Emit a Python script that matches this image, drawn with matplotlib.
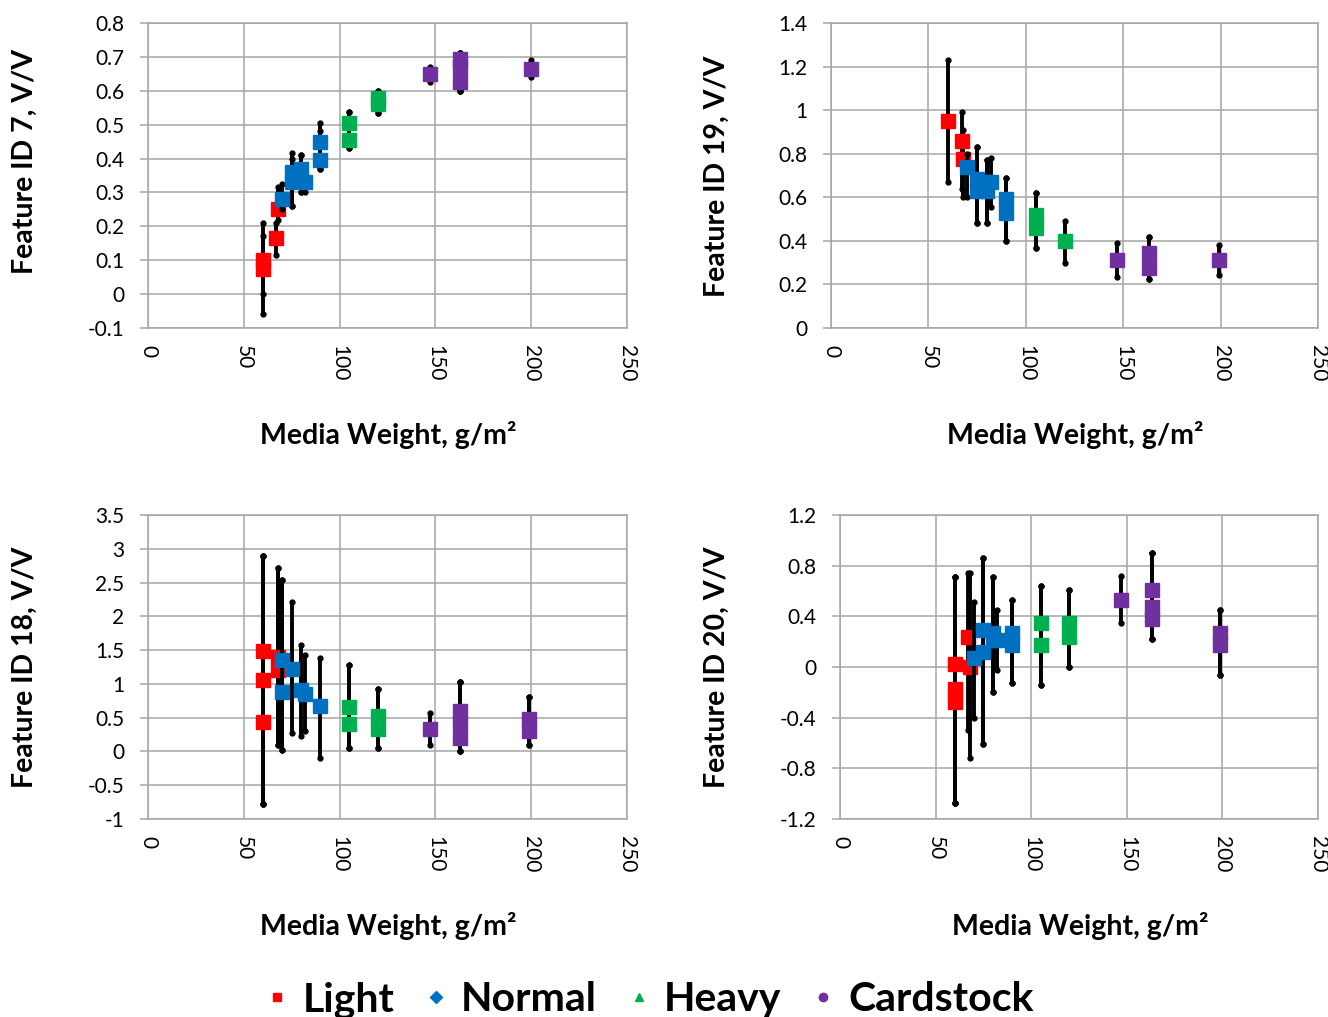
import matplotlib
matplotlib.use("Agg")
import matplotlib.pyplot as plt
import numpy as np
from matplotlib.lines import Line2D
from matplotlib.ticker import FuncFormatter

plt.rcParams['font.family'] = ['Lato', 'DejaVu Sans']

# series names / colours
groups = ['Light', 'Normal', 'Heavy', 'Cardstock']
colors = {'Light': '#FF0000', 'Normal': '#0070C0', 'Heavy': '#00B050', 'Cardstock': '#7030A0'}
legend_markers = {'Light': 's', 'Normal': 'D', 'Heavy': '^', 'Cardstock': 'o'}

# ---- Feature ID 7 ----
id7_light_x = [60, 60, 67, 68]
id7_light_y = [0.075, 0.10, 0.165, 0.25]
id7_light_lo = [-0.06, 0.0, 0.115, 0.22]
id7_light_hi = [0.21, 0.17, 0.21, 0.315]
id7_normal_x = [70, 75, 75, 80, 80, 82, 90, 90]
id7_normal_y = [0.28, 0.36, 0.33, 0.37, 0.34, 0.33, 0.45, 0.395]
id7_normal_lo = [0.25, 0.26, 0.26, 0.30, 0.30, 0.30, 0.37, 0.37]
id7_normal_hi = [0.325, 0.415, 0.40, 0.41, 0.41, 0.36, 0.505, 0.48]
id7_heavy_x = [105, 105, 120, 120]
id7_heavy_y = [0.505, 0.455, 0.58, 0.56]
id7_heavy_lo = [0.43, 0.43, 0.535, 0.535]
id7_heavy_hi = [0.537, 0.537, 0.60, 0.60]
id7_card_x = [147, 163, 163, 163, 200]
id7_card_y = [0.65, 0.695, 0.67, 0.625, 0.665]
id7_card_lo = [0.625, 0.60, 0.60, 0.60, 0.64]
id7_card_hi = [0.67, 0.71, 0.71, 0.71, 0.69]

# ---- Feature ID 19 ----
id19_light_x = [60, 67, 68]
id19_light_y = [0.95, 0.86, 0.775]
id19_light_lo = [0.67, 0.64, 0.60]
id19_light_hi = [1.23, 0.99, 0.91]
id19_normal_x = [70, 75, 75, 80, 80, 82, 90, 90]
id19_normal_y = [0.74, 0.685, 0.63, 0.67, 0.63, 0.67, 0.59, 0.53]
id19_normal_lo = [0.60, 0.48, 0.48, 0.48, 0.48, 0.555, 0.40, 0.40]
id19_normal_hi = [0.80, 0.83, 0.83, 0.77, 0.77, 0.78, 0.69, 0.69]
id19_heavy_x = [105, 105, 120]
id19_heavy_y = [0.52, 0.46, 0.40]
id19_heavy_lo = [0.367, 0.367, 0.30]
id19_heavy_hi = [0.62, 0.62, 0.49]
id19_card_x = [147, 163, 163, 199]
id19_card_y = [0.31, 0.345, 0.275, 0.31]
id19_card_lo = [0.234, 0.225, 0.225, 0.243]
id19_card_hi = [0.39, 0.417, 0.417, 0.38]

# ---- Feature ID 18 ----
id18_light_x = [60, 60, 60, 68, 68]
id18_light_y = [1.48, 1.06, 0.43, 1.40, 1.20]
id18_light_lo = [-0.78, -0.78, -0.78, 0.1, 0.1]
id18_light_hi = [2.89, 2.89, 2.89, 2.71, 2.71]
id18_normal_x = [70, 70, 75, 80, 82, 90]
id18_normal_y = [1.35, 0.88, 1.22, 0.91, 0.85, 0.67]
id18_normal_lo = [0.02, 0.02, 0.27, 0.23, 0.30, -0.10]
id18_normal_hi = [2.54, 2.54, 2.21, 1.57, 1.43, 1.38]
id18_heavy_x = [105, 105, 120, 120]
id18_heavy_y = [0.66, 0.41, 0.52, 0.33]
id18_heavy_lo = [0.05, 0.05, 0.05, 0.05]
id18_heavy_hi = [1.28, 1.28, 0.92, 0.92]
id18_card_x = [147, 163, 163, 163, 199, 199]
id18_card_y = [0.33, 0.60, 0.42, 0.20, 0.48, 0.30]
id18_card_lo = [0.10, 0.0, 0.0, 0.0, 0.10, 0.10]
id18_card_hi = [0.57, 1.03, 1.03, 1.03, 0.80, 0.80]

# ---- Feature ID 20 ----
id20_light_x = [60, 60, 60, 67, 68]
id20_light_y = [0.02, -0.17, -0.28, 0.24, 0.0]
id20_light_lo = [-1.07, -1.07, -1.07, -0.5, -0.72]
id20_light_hi = [0.71, 0.71, 0.71, 0.74, 0.74]
id20_normal_x = [70, 75, 75, 80, 80, 82, 90, 90]
id20_normal_y = [0.07, 0.12, 0.29, 0.27, 0.21, 0.21, 0.27, 0.17]
id20_normal_lo = [-0.4, -0.61, -0.61, -0.2, -0.2, -0.02, -0.13, -0.13]
id20_normal_hi = [0.51, 0.86, 0.86, 0.71, 0.71, 0.45, 0.53, 0.53]
id20_heavy_x = [105, 105, 120, 120]
id20_heavy_y = [0.35, 0.17, 0.35, 0.24]
id20_heavy_lo = [-0.14, -0.14, 0.0, 0.0]
id20_heavy_hi = [0.64, 0.64, 0.61, 0.61]
id20_card_x = [147, 163, 163, 163, 199, 199]
id20_card_y = [0.53, 0.61, 0.47, 0.38, 0.27, 0.17]
id20_card_lo = [0.35, 0.22, 0.22, 0.22, -0.06, -0.06]
id20_card_hi = [0.72, 0.90, 0.90, 0.90, 0.45, 0.45]

panels = [
    # label, ylim, ystep, axes box in pixels, y-label pixel centre, series
    ("Feature ID 7, V/V", (-0.1, 0.8), 0.1, [148, 23, 627, 328], (25, 162),
     [(id7_light_x, id7_light_y, id7_light_lo, id7_light_hi),
      (id7_normal_x, id7_normal_y, id7_normal_lo, id7_normal_hi),
      (id7_heavy_x, id7_heavy_y, id7_heavy_lo, id7_heavy_hi),
      (id7_card_x, id7_card_y, id7_card_lo, id7_card_hi)]),
    ("Feature ID 19, V/V", (0, 1.4), 0.2, [831, 23, 1318, 328], (717, 176),
     [(id19_light_x, id19_light_y, id19_light_lo, id19_light_hi),
      (id19_normal_x, id19_normal_y, id19_normal_lo, id19_normal_hi),
      (id19_heavy_x, id19_heavy_y, id19_heavy_lo, id19_heavy_hi),
      (id19_card_x, id19_card_y, id19_card_lo, id19_card_hi)]),
    ("Feature ID 18, V/V", (-1, 3.5), 0.5, [148, 515, 627, 819], (25, 667),
     [(id18_light_x, id18_light_y, id18_light_lo, id18_light_hi),
      (id18_normal_x, id18_normal_y, id18_normal_lo, id18_normal_hi),
      (id18_heavy_x, id18_heavy_y, id18_heavy_lo, id18_heavy_hi),
      (id18_card_x, id18_card_y, id18_card_lo, id18_card_hi)]),
    ("Feature ID 20, V/V", (-1.2, 1.2), 0.4, [840, 515, 1318, 819], (717, 667),
     [(id20_light_x, id20_light_y, id20_light_lo, id20_light_hi),
      (id20_normal_x, id20_normal_y, id20_normal_lo, id20_normal_hi),
      (id20_heavy_x, id20_heavy_y, id20_heavy_lo, id20_heavy_hi),
      (id20_card_x, id20_card_y, id20_card_lo, id20_card_hi)]),
]

W, H = 1328, 1017
fig = plt.figure(figsize=(W / 100, H / 100), dpi=100)
grid_c = '#a6a6a6'

for label, ylim, ystep, (x0, y0, x1, y1), (lx, ly), series in panels:
    ax = fig.add_axes([x0 / W, 1 - y1 / H, (x1 - x0) / W, (y1 - y0) / H])
    z = 3
    for g, (xs, ys, lo, hi) in zip(groups, series):
        # error bars (black, dotted ends) then square markers on top
        ax.vlines(xs, lo, hi, colors='black', lw=2.8, zorder=z)
        ax.plot(xs + xs, lo + hi, 'o', color='black', ms=3.5, zorder=z, clip_on=False)
        ax.plot(xs, ys, 's', color=colors[g], ms=10, mec=colors[g], zorder=z + 1, clip_on=False)
        z += 2
    ax.set_xlim(0, 250)
    ax.set_ylim(*ylim)
    ax.set_xticks(np.arange(0, 251, 50))
    ax.set_yticks(np.arange(ylim[0], ylim[1] + ystep / 2, ystep))
    ax.yaxis.set_major_formatter(FuncFormatter(lambda v, p: '%g' % round(v, 2)))
    ax.grid(True, color=grid_c, lw=1.1)
    ax.set_axisbelow(True)
    for s in ax.spines.values():
        s.set_color(grid_c)
        s.set_linewidth(1.1)
    ax.tick_params(axis='y', length=6, width=1.1, color=grid_c, labelsize=15, pad=11)
    ax.tick_params(axis='x', length=0, labelsize=15, pad=12)
    for t in ax.get_xticklabels():
        t.set_rotation(-90)
    fig.text(lx / W, 1 - ly / H, label, rotation=90,
             ha='center', va='center', fontsize=20.5, fontweight='bold')
    fig.text(((x0 + x1) / 2 + 1) / W, 1 - (y1 + 107) / H, 'Media Weight, g/m²',
             ha='center', va='center', fontsize=20.5, fontweight='bold')

handles = [Line2D([], [], ls='none', marker=legend_markers[g], color=colors[g], ms=6)
           for g in groups]
fig.legend(handles, groups, loc='center', bbox_to_anchor=(0.489, 1 - 1000 / H), ncol=4,
           frameon=False, prop={'size': 29.5, 'weight': 'bold'}, handlelength=0.6,
           handletextpad=0.31, columnspacing=0.72, borderpad=0)

fig.savefig('out.png', dpi=100)
